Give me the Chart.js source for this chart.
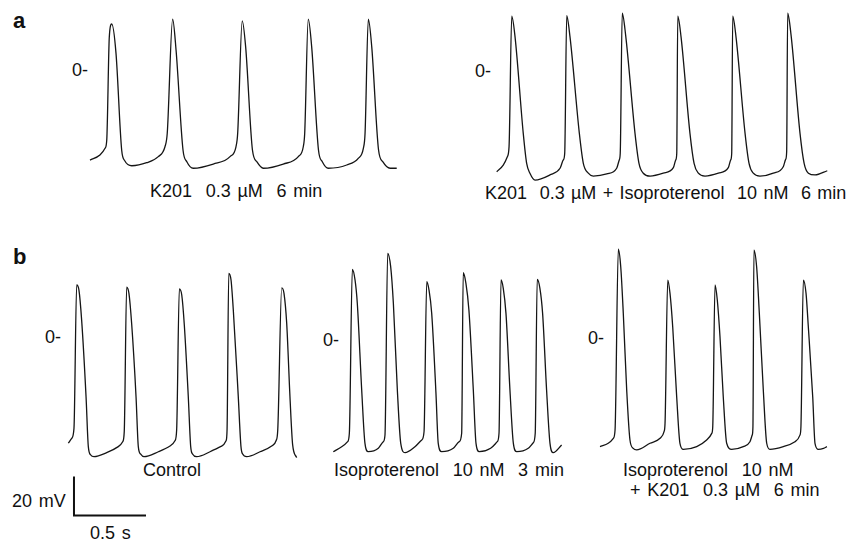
<!DOCTYPE html>
<html>
<head>
<meta charset="utf-8">
<script src="https://cdn.jsdelivr.net/npm/chart.js@4.4.1/dist/chart.umd.min.js"></script>
<style>
    html, body { margin: 0; padding: 0; background: #fff; }
    #fig { position: relative; width: 850px; height: 541px; overflow: hidden; background: #fff; }
    #fig canvas { position: absolute; }
    .lbl {
        position: absolute;
        font-family: "Liberation Sans", Arial, Helvetica, sans-serif;
        font-size: 18px;
        line-height: 18px;
        color: #111;
        white-space: pre;
        word-spacing: 1.8px;
    }
    .panel-letter { font-weight: bold; font-size: 22px; line-height: 22px; }
</style>
</head>
<body>
<div id="fig">
    <div class="lbl panel-letter" style="left:13px; top:10px;">a</div>
    <div class="lbl panel-letter" style="left:13px; top:246px;">b</div>

    <div class="lbl" style="left:72px; top:61px;">0-</div>
    <div class="lbl" style="left:475px; top:62px;">0-</div>
    <div class="lbl" style="left:45px; top:328px;">0-</div>
    <div class="lbl" style="left:323px; top:331px;">0-</div>
    <div class="lbl" style="left:588px; top:329px;">0-</div>

    <div class="lbl" style="left:150px; top:182px;">K201  0.3 µM  6 min</div>
    <div class="lbl" style="left:485px; top:184px; word-spacing:1.3px;">K201  0.3 µM + Isoproterenol  10 nM  6 min</div>
    <div class="lbl" style="left:143px; top:461px;">Control</div>
    <div class="lbl" style="left:334px; top:461px;">Isoproterenol  10 nM  3 min</div>
    <div class="lbl" style="left:623px; top:461px;">Isoproterenol  10 nM</div>
    <div class="lbl" style="left:630px; top:481px;">+ K201  0.3 µM  6 min</div>

    <div class="lbl" style="left:12px; top:492px;">20 mV</div>
    <div class="lbl" style="left:90px; top:524px;">0.5 s</div>
</div>
<script>
// ---- recorded traces (time in ms, membrane potential in mV) ----

// a, left: K201 0.3 uM 6 min
const aLeftTimeMs = [0, 70, 106, 118, 136, 153, 183, 223, 246, 294, 399, 481, 528, 544, 582, 606, 655, 683, 727, 868, 986, 1028, 1040, 1072, 1096, 1144, 1176, 1220, 1361, 1467, 1502, 1512, 1537, 1561, 1609, 1637, 1678, 1808, 1889, 1925, 1937, 1960, 1984, 2032, 2063, 2113, 2160];
const aLeftMv = [-47.4, -44.7, -41.2, -36.8, 17.5, 24.2, 8.9, -42.1, -47.9, -50.4, -48.8, -45.6, -40.4, -33.3, 26.7, 10.5, -42.1, -48.4, -51.7, -49.5, -45.6, -40.4, -33.3, 25.9, 12.3, -42.1, -48.4, -51.7, -49.5, -45.6, -40.4, -33.3, 26.8, 12.3, -42.1, -48.4, -51.7, -50.0, -46.5, -41.2, -33.3, 26.8, 12.3, -42.1, -48.4, -51.7, -51.7];

// a, right: K201 0.3 uM + Isoproterenol 10 nM 6 min
const aRightTimeMs = [0, 46, 75, 87, 106, 129, 187, 211, 234, 270, 375, 446, 469, 479, 493, 516, 582, 610, 645, 680, 775, 845, 863, 870, 884, 908, 974, 1002, 1032, 1080, 1173, 1244, 1261, 1268, 1275, 1298, 1361, 1390, 1420, 1467, 1561, 1631, 1648, 1655, 1662, 1685, 1749, 1777, 1807, 1854, 1948, 2018, 2035, 2042, 2049, 2073, 2136, 2165, 2195, 2242, 2328];
const aRightMv = [-53.0, -49.5, -45.1, -39.8, 28.9, 18.1, -32.8, -48.6, -53.8, -57.4, -54.7, -51.2, -46.8, -43.3, 29.1, 18.1, -32.8, -48.6, -53.8, -55.3, -54.2, -51.2, -46.8, -43.3, 30.4, 18.9, -32.8, -48.6, -53.8, -55.3, -53.8, -50.9, -46.8, -43.3, 28.9, 18.1, -32.8, -48.6, -53.8, -55.3, -53.8, -50.9, -46.8, -43.3, 28.9, 18.1, -32.8, -48.6, -53.8, -55.3, -53.8, -50.4, -46.5, -42.5, 30.4, 18.9, -32.8, -48.6, -53.8, -54.7, -52.5];

// b, left: Control
const bLeftTimeMs = [0, 24, 40, 59, 75, 94, 125, 141, 158, 181, 270, 352, 383, 394, 411, 427, 446, 477, 493, 510, 533, 634, 716, 751, 763, 782, 799, 817, 845, 862, 876, 904, 998, 1080, 1111, 1118, 1130, 1146, 1162, 1197, 1216, 1228, 1256, 1350, 1432, 1463, 1475, 1503, 1519, 1538, 1561, 1580, 1608];
const bLeftMv = [-55.9, -53.3, -48.1, 27.4, 24.7, 8.9, -31.4, -57.7, -62.1, -63.0, -60.9, -57.7, -55.1, -49.8, 26.2, 23.0, 7.2, -31.4, -57.7, -61.7, -63.0, -60.4, -57.4, -54.6, -48.9, 25.3, 22.1, 6.3, -31.4, -57.7, -61.7, -63.0, -60.4, -57.4, -54.6, -48.9, 33.5, 30.0, 14.2, -31.4, -57.7, -61.6, -63.0, -60.4, -57.4, -54.6, -48.9, 25.9, 23.0, 7.2, -31.4, -56.8, -63.5];

// b, middle: Isoproterenol 10 nM 3 min
const bMidTimeMs = [0, 59, 101, 113, 134, 153, 169, 200, 223, 246, 317, 352, 364, 383, 404, 423, 451, 475, 505, 575, 623, 639, 658, 674, 693, 723, 739, 763, 845, 887, 904, 915, 934, 955, 986, 1005, 1028, 1108, 1155, 1167, 1181, 1197, 1216, 1244, 1268, 1292, 1373, 1408, 1422, 1436, 1455, 1474, 1502, 1526, 1549, 1608];
const bMidMv = [-58.8, -56.2, -53.5, -49.1, 37.2, 31.6, 19.3, -26.3, -54.4, -58.8, -57.0, -53.5, -50.0, 45.6, 38.6, 19.3, -26.3, -54.4, -59.3, -56.2, -52.6, -48.3, 30.7, 26.3, 14.0, -28.1, -54.4, -58.8, -57.0, -53.5, -49.1, 35.4, 29.8, 15.8, -26.3, -54.4, -58.8, -57.0, -53.5, -49.1, 31.6, 27.2, 14.0, -26.3, -54.4, -58.8, -57.0, -54.1, -49.1, 31.9, 27.2, 14.0, -26.3, -54.4, -59.3, -55.3];

// b, right: Isoproterenol 10 nM + K201 0.3 uM 6 min
const bRightTimeMs = [0, 58, 94, 106, 129, 146, 164, 188, 211, 234, 258, 352, 423, 451, 458, 477, 493, 512, 540, 563, 587, 681, 751, 787, 794, 810, 826, 845, 868, 892, 927, 1009, 1056, 1072, 1077, 1084, 1103, 1122, 1150, 1174, 1197, 1291, 1373, 1408, 1415, 1432, 1451, 1467, 1498, 1514, 1538, 1574, 1598];
const bRightMv = [-57.2, -55.4, -52.8, -48.4, 46.7, 37.5, 13.0, -27.4, -53.7, -58.1, -58.9, -55.4, -52.8, -49.3, -44.9, 30.5, 23.5, 5.9, -30.9, -55.4, -58.6, -57.2, -53.7, -50.2, -46.7, 27.9, 20.0, 0.7, -30.9, -55.4, -58.6, -57.2, -54.6, -51.1, -46.7, 46.3, 37.5, 13.0, -27.4, -55.4, -58.6, -57.2, -54.6, -51.1, -46.7, 30.5, 23.5, 5.9, -30.9, -55.4, -58.6, -58.1, -57.2];

// calibration bar: 20 mV / 0.5 s, drawn in the control panel's units
const scaleBarTimeMs = [40, 40, 540];
const scaleBarMv = [-74, -94, -94];

// ---- figure geometry (shared calibration for all panels) ----
const PX_PER_MS = 0.142;
const PX_PER_MV = 1.9;

const panels = [
    { id: 'aLeft',  t: aLeftTimeMs,  v: aLeftMv,  x0: 90,    zeroY: 70,  tMax: 2180, vMin: -62,  vMax: 35 },
    { id: 'aRight', t: aRightTimeMs, v: aRightMv, x0: 496.7, zeroY: 71,  tMax: 2345, vMin: -65,  vMax: 38 },
    { id: 'bLeft',  t: bLeftTimeMs,  v: bLeftMv,  x0: 68.3,  zeroY: 337, tMax: 1625, vMin: -100, vMax: 40, bar: true },
    { id: 'bMid',   t: bMidTimeMs,   v: bMidMv,   x0: 333.3, zeroY: 340, tMax: 1625, vMin: -66,  vMax: 52 },
    { id: 'bRight', t: bRightTimeMs, v: bRightMv, x0: 600,   zeroY: 338, tMax: 1615, vMin: -66,  vMax: 52 }
];

function toPoints(xs, ys) {
    return xs.map((x, i) => ({ x, y: ys[i] }));
}

function buildTrace(p) {
    const fig = document.getElementById('fig');
    const canvas = document.createElement('canvas');

    // snap the canvas to whole pixels, then derive axis limits so px/unit stays exact
    const left = Math.round(p.x0 - 4);
    const top = Math.round(p.zeroY - p.vMax * PX_PER_MV);
    const xMin = (left - p.x0) / PX_PER_MS;
    const width = Math.ceil((p.tMax - xMin) * PX_PER_MS);
    const xMax = xMin + width / PX_PER_MS;
    const yMax = (p.zeroY - top) / PX_PER_MV;
    const height = Math.ceil((yMax - p.vMin) * PX_PER_MV);
    const yMin = yMax - height / PX_PER_MV;

    canvas.width = width;
    canvas.height = height;
    canvas.style.left = left + 'px';
    canvas.style.top = top + 'px';
    canvas.style.width = width + 'px';
    canvas.style.height = height + 'px';
    fig.appendChild(canvas);

    const datasets = [{
        data: toPoints(p.t, p.v),
        showLine: true,
        borderColor: '#151515',
        borderWidth: 1.3,
        pointRadius: 0,
        cubicInterpolationMode: 'monotone',
        clip: 4
    }];
    if (p.bar) {
        datasets.push({
            data: toPoints(scaleBarTimeMs, scaleBarMv),
            showLine: true,
            borderColor: '#111',
            borderWidth: 2,
            pointRadius: 0,
            tension: 0,
            borderCapStyle: 'square',
            clip: 4
        });
    }

    return new Chart(canvas, {
        type: 'scatter',
        data: { datasets },
        options: {
            responsive: false,
            animation: false,
            devicePixelRatio: 1,
            layout: { padding: 0 },
            plugins: { legend: { display: false }, tooltip: { enabled: false } },
            events: [],
            scales: {
                x: { type: 'linear', display: false, min: xMin, max: xMax },
                y: { type: 'linear', display: false, min: yMin, max: yMax }
            }
        }
    });
}

panels.forEach(buildTrace);
</script>
</body>
</html>
